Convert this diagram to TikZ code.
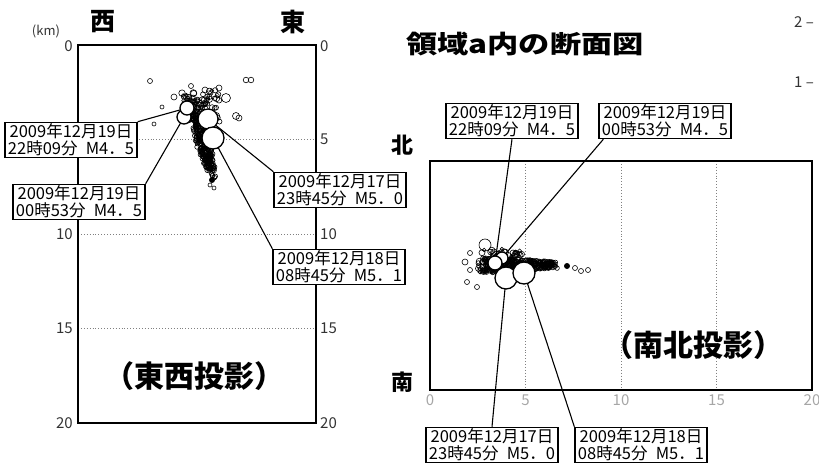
\documentclass[tikz,border=0pt]{standalone}
\usepackage{fontspec}
\setmainfont{Noto Sans CJK JP}

\begin{document}
\begin{tikzpicture}
[x=1pt,y=-1pt,
  quakeDecorate/.style={draw,line width=0.6pt},%
  bigDecorate/.style={draw,fill=white,line width=1.3pt},%
  boxDecorate/.style={draw,fill=white,line width=1.2pt,align=center,
    inner xsep=3pt,inner ysep=1.5pt,font=\fontsize{16.5}{17}\selectfont},%
  leadDecorate/.style={line width=1.1pt},%
  gridDecorate/.style={dotted,gray,line width=0.9pt},%
  frameDecorate/.style={line width=2pt},%
  tickDecorate/.style={font=\fontsize{15}{15}\selectfont,text=black!80,inner sep=1pt},%
  bigLabel/.style={font=\fontsize{#1}{#1}\selectfont\bfseries,inner sep=0pt}]
\useasboundingbox (0,0) rectangle (819,463);
%% grid lines
\foreach \y in {139.5,234,328.5}
{
  \draw[gridDecorate] (78,\y) -- (316,\y);
}
\foreach \x in {525.5,621,716.5}
{
  \draw[gridDecorate] (\x,161) -- (\x,390);
}
%% frames
\draw[frameDecorate] (78,45) rectangle (316,423);
\draw[frameDecorate] (430,161) rectangle (812,390);
%% small quakes, east-west
\pgfmathsetseed{2009}
\foreach \i in {1,...,340}
{
  \pgfmathsetmacro{\qt}{rnd}
  \pgfmathsetmacro{\qx}{192+19*\qt+9*(1-0.5*\qt)*rand}
  \pgfmathsetmacro{\qy}{100+72*\qt+6*rand}
  \draw[quakeDecorate] (\qx,\qy) circle (2.3);
}
\foreach \i in {1,...,70}
{
  \pgfmathsetmacro{\qx}{200+20*rand}
  \pgfmathsetmacro{\qy}{106+16*rand}
  \pgfmathsetmacro{\qr}{1.8+1.6*rnd}
  \draw[quakeDecorate] (\qx,\qy) circle (\qr);
}
\foreach \qx/\qy/\qr in {150/81/2.5, 246/80/2.8, 251/80/2.8, 162/107/2, 154/124/2,
  219/88/3, 226/98/4.5, 236/116/3.5, 239/118/3, 174/97/3, 191/86/2.5, 205/90/3,
  210/185/2, 214/188/2}
{
  \draw[quakeDecorate] (\qx,\qy) circle (\qr);
}
\fill (212,180) circle (3);
%% small quakes, north-south
\foreach \i in {1,...,330}
{
  \pgfmathsetmacro{\qt}{rnd}
  \pgfmathsetmacro{\qx}{482+72*\qt+5*rand}
  \pgfmathsetmacro{\qy}{265+8*(1-0.6*\qt)*rand}
  \draw[quakeDecorate] (\qx,\qy) circle (2.3);
}
\foreach \i in {1,...,70}
{
  \pgfmathsetmacro{\qx}{500+22*rand}
  \pgfmathsetmacro{\qy}{261+12*rand}
  \pgfmathsetmacro{\qr}{1.8+1.6*rnd}
  \draw[quakeDecorate] (\qx,\qy) circle (\qr);
}
\foreach \qx/\qy/\qr in {465/262/3, 467/282/2.5, 477/287/2.5, 485/245/6, 470/253/2.5,
  513/253/3, 575/268/2.5, 581/271/2.5, 588/270/2.5, 470/270/2.5}
{
  \draw[quakeDecorate] (\qx,\qy) circle (\qr);
}
\fill (567,266) circle (3);
%% label boxes
\node[boxDecorate] (lbA) at (71,140) {2009年12月19日\\22時09分\enskip M4．5};
\node[boxDecorate] (lbB) at (79,202) {2009年12月19日\\00時53分\enskip M4．5};
\node[boxDecorate] (lbC) at (340,190) {2009年12月17日\\23時45分\enskip M5．0};
\node[boxDecorate] (lbD) at (339,267) {2009年12月18日\\08時45分\enskip M5．1};
\node[boxDecorate] (rbA) at (512,121) {2009年12月19日\\22時09分\enskip M4．5};
\node[boxDecorate] (rbB) at (665,121) {2009年12月19日\\00時53分\enskip M4．5};
\node[boxDecorate] (rbC) at (492,445) {2009年12月17日\\23時45分\enskip M5．0};
\node[boxDecorate] (rbD) at (641,445) {2009年12月18日\\08時45分\enskip M5．1};
%% main shocks
\foreach \name/\x/\y in {lq0053/184/117, lq2209/187/108, lq2345/208/119, lq0845/213/138,
  rq0053/502/258, rq2209/495/263, rq2345/506/278, rq0845/524/273}
{
  \coordinate (\name) at (\x,\y);
}
\path
\foreach \startnode/\endnode in {lbA.north east/lq2209, lbB.north east/lq0053,
  lbC.north west/lq2345, lbD.north west/lq0845, rbA.south/rq2209,
  rbC.north/rq2345, rbD.north west/rq0845}
{
  (\startnode) edge[leadDecorate] (\endnode)
};
\draw[leadDecorate] ([xshift=5pt]rbB.south west) -- (rq0053);
\foreach \name/\r in {lq0053/7, lq2209/7, lq2345/10, lq0845/11,
  rq0053/6, rq2209/7, rq2345/11, rq0845/11}
{
  \draw[bigDecorate] (\name) circle (\r);
}
%% axis numbers
\foreach \v/\y in {0/46, 10/234, 15/328.5, 20/423}
{
  \node[tickDecorate,anchor=east] (lt\v) at (74,\y) {\v};
}
\foreach \v/\y in {0/46, 5/139.5, 10/234, 15/328.5, 20/423}
{
  \node[tickDecorate,anchor=west] (rt\v) at (319,\y) {\v};
}
\foreach \v/\x in {0/430, 5/525.5, 10/621, 15/716.5, 20/812}
{
  \node[tickDecorate,text=gray!70] (bt\v) at (\x,400) {\v};
}
\node[tickDecorate,font=\fontsize{13}{13}\selectfont] (km) at (46,31) {(km)};
\node[tickDecorate,anchor=west] (two) at (793,22) {2 –};
\node[tickDecorate,anchor=west] (one) at (793,82) {1 –};
%% headings
\node[bigLabel=25] (west) at (103,22) {西};
\node[bigLabel=25] (east) at (293,22) {東};
\node[bigLabel=22] (north) at (402,145) {北};
\node[bigLabel=22] (south) at (402,382) {南};
\node[bigLabel=25] (title) at (525,44) {\scalebox{1.25}[1]{領域a内の断面図}};
\node[bigLabel=30] (ewproj) at (194,376) {（東西投影）};
\node[bigLabel=30] (nsproj) at (693,345) {（南北投影）};
\end{tikzpicture}
\end{document}
